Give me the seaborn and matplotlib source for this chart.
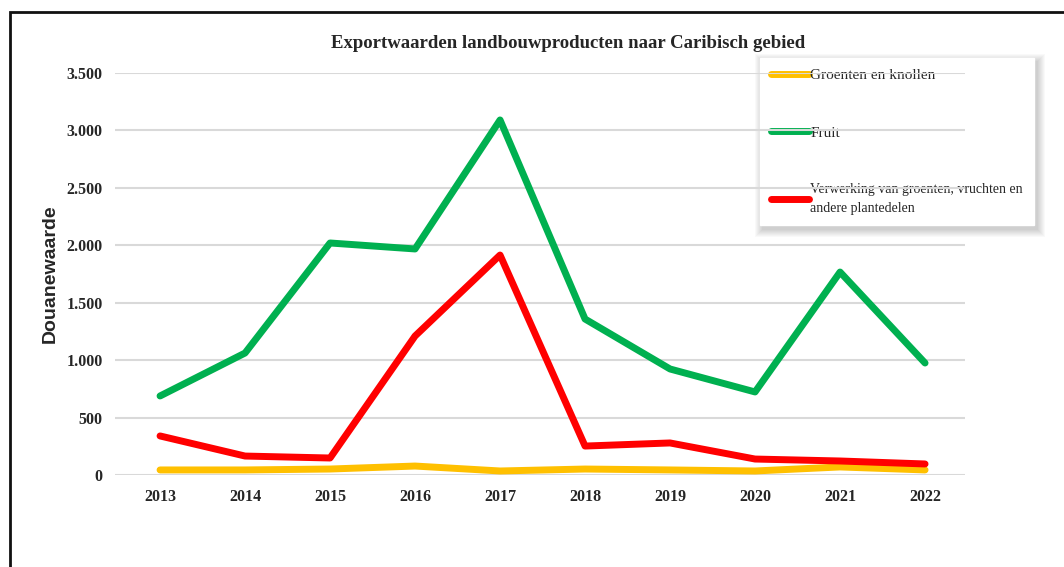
import matplotlib.pyplot as plt
import seaborn as sns
import pandas as pd
from matplotlib.patches import Rectangle

years = ["2013", "2014", "2015", "2016", "2017", "2018", "2019", "2020", "2021", "2022"]
groenten = [44, 44, 52, 78, 35, 52, 44, 35, 70, 44]
fruit = [688, 1062, 2020, 1968, 3091, 1358, 923, 723, 1767, 975]
verwerking = [340, 165, 148, 1210, 1915, 252, 279, 139, 122, 96]

series_names = ["Groenten en knollen", "Fruit",
                "Verwerking van groenten, vruchten en\nandere plantedelen"]
colors = ["#FFC000", "#00B050", "#FF0000"]

df = pd.DataFrame({
    "jaar": years * 3,
    "waarde": groenten + fruit + verwerking,
    "product": [series_names[0]] * 10 + [series_names[1]] * 10 + [series_names[2]] * 10,
})

sns.set_style("white")
plt.rcParams['font.family'] = ['Liberation Serif', 'DejaVu Serif']

fig = plt.figure(figsize=(10.64, 5.67), dpi=100)
ax = fig.add_axes([115 / 1064, 1 - 475 / 567, 850 / 1064, 402 / 567])
ax.patch.set_visible(False)

sns.lineplot(data=df, x="jaar", y="waarde", hue="product", hue_order=series_names,
             palette=colors, linewidth=5, solid_capstyle="round", ax=ax, sort=False)

ax.set_ylim(0, 3500)
ax.set_xlim(-0.53, 9.47)
ax.set_yticks(range(0, 3501, 500))
ax.set_yticklabels([f"{v:,}".replace(",", ".") for v in range(0, 3501, 500)])
ax.yaxis.grid(True, color="#D9D9D9", linewidth=1.5)
ax.set_axisbelow(True)
for s in ax.spines.values():
    s.set_visible(False)
ax.tick_params(axis="y", length=0, pad=9, labelsize=11.5)
ax.tick_params(axis="x", length=0, pad=10, labelsize=11.5)
for lbl in ax.get_xticklabels() + ax.get_yticklabels():
    lbl.set_fontweight("bold")

ax.set_xlabel("")
ax.set_ylabel("Douanewaarde", family="Liberation Sans", fontweight="bold", fontsize=14)
ax.yaxis.set_label_coords(-0.066, 0.5)

fig.text(568 / 1064, 1 - 44 / 567, "Exportwaarden landbouwproducten naar Caribisch gebied",
         ha="center", va="center", fontsize=13.5, fontweight="bold")

handles, labels = ax.get_legend_handles_labels()
leg = ax.legend(handles, labels, loc="upper left", bbox_to_anchor=(760 / 1064, 1 - 58 / 567),
                bbox_transform=fig.transFigure, borderaxespad=0, frameon=True, fancybox=False,
                fontsize=11, handlelength=2.5, handletextpad=0.1, labelspacing=2.85,
                borderpad=0.7, facecolor="white", edgecolor="white", framealpha=1)
leg.get_texts()[2].set_fontsize(10)
leg.get_texts()[2].set_linespacing(1.55)
leg.set_zorder(0.2)

# soft shadow behind the legend box
fig.canvas.draw()
bb = leg.get_window_extent().transformed(fig.transFigure.inverted())
px, py = 1 / 1064, 1 / 567
for i in range(8, 0, -1):
    fig.add_artist(Rectangle((bb.x0 + 3 * px - i * px, bb.y0 - 4 * py - i * py),
                             bb.width + 2 * i * px, bb.height + 2 * i * py,
                             transform=fig.transFigure, facecolor="black",
                             edgecolor="none", alpha=0.025, zorder=-1))

# black frame around the chart, running off the right and bottom edges
fig.add_artist(Rectangle((10 / 1064, -0.1), 1.2, 1 - 12 / 567 + 0.1, transform=fig.transFigure,
                         fill=False, edgecolor="#111111", linewidth=2))

fig.savefig("out.png", dpi=100)
